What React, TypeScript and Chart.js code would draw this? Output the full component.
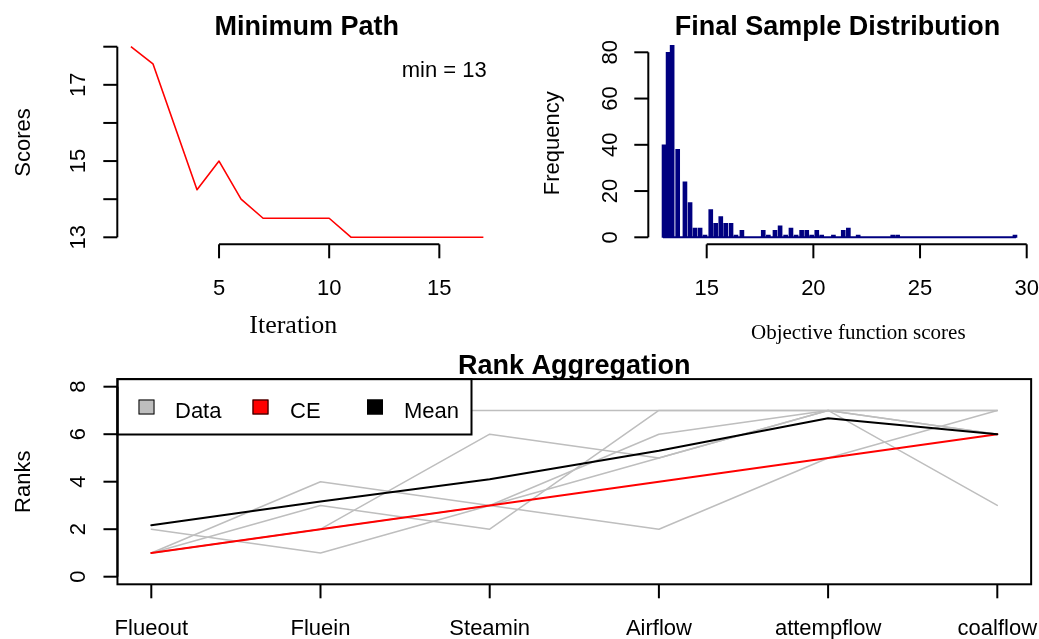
import React, { useEffect, useRef } from "react";
import { Chart, registerables } from "chart.js";

Chart.register(...registerables);

const W = 1039;
const H = 639;
const SANS = '"Liberation Sans", Arial, Helvetica, sans-serif';
const SERIF = '"Liberation Serif", "Times New Roman", serif';

// ---------- Panel 1: Minimum Path ----------
const iterations = [1, 2, 3, 4, 5, 6, 7, 8, 9, 10, 11, 12, 13, 14, 15, 16, 17];
const minScores = [18.0, 17.55, 15.9, 14.25, 15.0, 14.0, 13.5, 13.5, 13.5, 13.5, 13.0, 13.0, 13.0, 13.0, 13.0, 13.0, 13.0];
const pathYTicks = [13, 14, 15, 16, 17, 18];
const pathYLabels = ["13", "", "15", "", "17", ""];
const pathXTicks = [5, 10, 15];
const minText = "min = 13";

// ---------- Panel 2: Final Sample Distribution ----------
const sampleScores = [
  13.0, 13.19, 13.38, 13.64, 13.98, 14.22, 14.45, 14.69, 14.92, 15.19, 15.42, 15.66, 15.89, 16.14, 16.37, 16.65,
  17.65, 17.89, 18.2, 18.44, 18.7, 18.95, 19.19, 19.45, 19.69, 19.92, 20.16, 20.39, 20.94, 21.4, 21.64, 22.1,
  23.72, 23.95, 29.45,
];
const sampleFreq = [
  40, 80, 83, 38, 24, 15, 4, 4, 1, 12, 6, 9, 6, 6, 1, 3,
  3, 1, 3, 5, 1, 4, 1, 3, 3, 1, 3, 1, 1, 3, 4, 1,
  1, 1, 1,
];
const baselineRange = [12.95, 29.5];
const freqTicks = [0, 20, 40, 60, 80];
const scoreTicks = [15, 20, 25, 30];

// ---------- Panel 3: Rank Aggregation ----------
const variables = ["Flueout", "Fluein", "Steamin", "Airflow", "attempflow", "coalflow"];
const rankRun1 = [7, 7, 7, 7, 7, 7];
const rankRun2 = [1, 2, 6, 5, 7, 6];
const rankRun3 = [1, 4, 3, 2, 5, 7];
const rankRun4 = [1, 3, 2, 7, 7, 3];
const rankRun5 = [2, 1, 3, 6, 7, 6];
const rankRun6 = [1, 2, 3, 5, 7, 7];
const ceRanks = [1, 2, 3, 4, 5, 6];
const meanRanks = [2.17, 3.17, 4.1, 5.3, 6.67, 6.0];
const rankTicks = [0, 2, 4, 6, 8];
const legendLabels = ["Data", "CE", "Mean"];
const legendColors = ["#BEBEBE", "#FF0000", "#000000"];

function pad(left: number, top: number, right: number, bottom: number) {
  return { left, top, right: W - right, bottom: H - bottom };
}

function line(ctx: CanvasRenderingContext2D, x1: number, y1: number, x2: number, y2: number) {
  ctx.beginPath();
  ctx.moveTo(x1, y1);
  ctx.lineTo(x2, y2);
  ctx.stroke();
}

function hText(ctx: CanvasRenderingContext2D, text: string, x: number, y: number, font: string, align: CanvasTextAlign = "center") {
  ctx.save();
  ctx.font = font;
  ctx.fillStyle = "#000";
  ctx.textAlign = align;
  ctx.textBaseline = "alphabetic";
  ctx.fillText(text, x, y);
  ctx.restore();
}

function vText(ctx: CanvasRenderingContext2D, text: string, x: number, y: number, font: string) {
  ctx.save();
  ctx.translate(x, y);
  ctx.rotate(-Math.PI / 2);
  ctx.font = font;
  ctx.fillStyle = "#000";
  ctx.textAlign = "center";
  ctx.textBaseline = "alphabetic";
  ctx.fillText(text, 0, 0);
  ctx.restore();
}

const common = {
  responsive: false,
  animation: false as const,
  devicePixelRatio: 1,
  events: [] as any[],
  plugins: { legend: { display: false }, title: { display: false }, tooltip: { enabled: false } },
};

const TICK = 14;
const F22 = `22px ${SANS}`;
const TITLE = `bold 27px ${SANS}`;

const pathPlugin = {
  id: "pathAxes",
  afterDraw(chart: any) {
    const ctx = chart.ctx as CanvasRenderingContext2D;
    const xs = chart.scales.x;
    const ys = chart.scales.y;
    ctx.save();
    ctx.strokeStyle = "#000";
    ctx.lineWidth = 2;
    const axX = 117.3;
    line(ctx, axX, ys.getPixelForValue(pathYTicks[0]), axX, ys.getPixelForValue(pathYTicks[pathYTicks.length - 1]));
    pathYTicks.forEach((t, i) => {
      const py = ys.getPixelForValue(t);
      line(ctx, axX, py, axX - TICK, py);
      if (pathYLabels[i]) vText(ctx, pathYLabels[i], 85, py, F22);
    });
    const axY = 244.3;
    line(ctx, xs.getPixelForValue(pathXTicks[0]), axY, xs.getPixelForValue(pathXTicks[pathXTicks.length - 1]), axY);
    pathXTicks.forEach((t) => {
      const px = xs.getPixelForValue(t);
      line(ctx, px, axY, px, axY + TICK);
      hText(ctx, String(t), px, 295, F22);
    });
    vText(ctx, "Scores", 30, 142.5, F22);
    hText(ctx, "Iteration", 293.3, 333, `26px ${SERIF}`);
    hText(ctx, "Minimum Path", 306.7, 35, TITLE);
    hText(ctx, minText, 486.7, 77.3, F22, "right");
    ctx.restore();
  },
};

const histPlugin = {
  id: "histAxes",
  afterDraw(chart: any) {
    const ctx = chart.ctx as CanvasRenderingContext2D;
    const xs = chart.scales.x;
    const ys = chart.scales.y;
    ctx.save();
    ctx.strokeStyle = "#000";
    ctx.lineWidth = 2;
    const axX = 648.3;
    line(ctx, axX, ys.getPixelForValue(freqTicks[0]), axX, ys.getPixelForValue(freqTicks[freqTicks.length - 1]));
    freqTicks.forEach((t) => {
      const py = ys.getPixelForValue(t);
      line(ctx, axX, py, axX - TICK, py);
      vText(ctx, String(t), 616.5, py, F22);
    });
    const axY = 244.3;
    line(ctx, xs.getPixelForValue(scoreTicks[0]), axY, xs.getPixelForValue(scoreTicks[scoreTicks.length - 1]), axY);
    scoreTicks.forEach((t) => {
      const px = xs.getPixelForValue(t);
      line(ctx, px, axY, px, axY + TICK);
      hText(ctx, String(t), px, 295, F22);
    });
    vText(ctx, "Frequency", 558.8, 143.3, F22);
    hText(ctx, "Objective function scores", 858.3, 339, `21px ${SERIF}`);
    hText(ctx, "Final Sample Distribution", 837.5, 35, TITLE);
    ctx.restore();
  },
};

const rankPlugin = {
  id: "rankAxes",
  afterDatasetsDraw(chart: any) {
    const ctx = chart.ctx as CanvasRenderingContext2D;
    const ca = chart.chartArea;
    ctx.save();
    // legend box
    const lx = ca.left, ly = ca.top, lw = 471.5 - ca.left, lh = 434.5 - ca.top;
    ctx.fillStyle = "#fff";
    ctx.fillRect(lx, ly, lw, lh);
    ctx.strokeStyle = "#000";
    ctx.lineWidth = 2;
    ctx.strokeRect(lx, ly, lw, lh);
    const sqX = [138.5, 252.5, 367];
    const txX = [175, 290, 404];
    legendLabels.forEach((lab, i) => {
      ctx.fillStyle = legendColors[i];
      ctx.fillRect(sqX[i], 399.5, 16, 15);
      ctx.lineWidth = 1;
      ctx.strokeStyle = "#000";
      ctx.strokeRect(sqX[i] + 0.5, 400, 15, 14);
      hText(ctx, lab, txX[i], 417.5, F22, "left");
    });
    ctx.restore();
  },
  afterDraw(chart: any) {
    const ctx = chart.ctx as CanvasRenderingContext2D;
    const ca = chart.chartArea;
    const xs = chart.scales.x;
    const ys = chart.scales.y;
    ctx.save();
    ctx.strokeStyle = "#000";
    ctx.lineWidth = 2;
    ctx.strokeRect(ca.left, ca.top, ca.right - ca.left, ca.bottom - ca.top);
    line(ctx, ca.left, ys.getPixelForValue(rankTicks[0]), ca.left, ys.getPixelForValue(rankTicks[rankTicks.length - 1]));
    rankTicks.forEach((t) => {
      const py = ys.getPixelForValue(t);
      line(ctx, ca.left, py, ca.left - TICK, py);
      vText(ctx, String(t), 85.3, py, F22);
    });
    variables.forEach((v, i) => {
      const px = xs.getPixelForValue(i + 1);
      line(ctx, px, ca.bottom, px, ca.bottom + TICK);
      hText(ctx, v, px, 635, F22);
    });
    vText(ctx, "Ranks", 30, (ca.top + ca.bottom) / 2, F22);
    hText(ctx, "Rank Aggregation", (ca.left + ca.right) / 2, 373.5, TITLE);
    ctx.restore();
  },
};

function pts(xs: number[], ys: number[]) {
  return xs.map((x, i) => ({ x, y: ys[i] }));
}

function configPath(): any {
  return {
    type: "line",
    data: {
      datasets: [
        {
          data: pts(iterations, minScores),
          borderColor: "#FF0000",
          borderWidth: 1.6,
          pointRadius: 0,
          tension: 0,
          borderJoinStyle: "round",
          clip: false,
        },
      ],
    },
    options: {
      ...common,
      layout: { padding: pad(119.9, 39.08, 494.4, 244.92) },
      scales: {
        x: { type: "linear", min: 0.5, max: 17.5, display: false },
        y: { type: "linear", min: 12.8, max: 18.2, display: false },
      },
    },
    plugins: [pathPlugin],
  };
}

function configHist(): any {
  return {
    type: "bar",
    data: {
      datasets: [
        {
          type: "bar",
          data: pts(sampleScores, sampleFreq),
          backgroundColor: "#000080",
          borderWidth: 0,
          barThickness: 4,
        },
        {
          type: "line",
          data: [
            { x: baselineRange[0], y: 0 },
            { x: baselineRange[1], y: 0 },
          ],
          borderColor: "#000080",
          borderWidth: 2,
          pointRadius: 0,
        },
      ],
    },
    options: {
      ...common,
      layout: { padding: pad(642.7, 38.43, 1037.37, 245.39) },
      scales: {
        x: { type: "linear", min: 12, max: 30.5, offset: false, display: false, grid: { offset: false } },
        y: { type: "linear", min: -3.5, max: 86, display: false },
      },
    },
    plugins: [histPlugin],
  };
}

function configRank(): any {
  const xsIdx = variables.map((_, i) => i + 1);
  const grayRuns = [rankRun1, rankRun2, rankRun3, rankRun4, rankRun5, rankRun6];
  const base = { pointRadius: 0, tension: 0, borderJoinStyle: "round", borderCapStyle: "round", fill: false };
  return {
    type: "line",
    data: {
      datasets: [
        { ...base, label: "Mean", data: pts(xsIdx, meanRanks), borderColor: "#000000", borderWidth: 2, order: 1 },
        { ...base, label: "CE", data: pts(xsIdx, ceRanks), borderColor: "#FF0000", borderWidth: 2, order: 2 },
        ...grayRuns.map((r, k) => ({
          ...base,
          label: "Data " + (k + 1),
          data: pts(xsIdx, r),
          borderColor: "#BEBEBE",
          borderWidth: 1.5,
          order: 3,
        })),
      ],
    },
    options: {
      ...common,
      layout: { padding: pad(117.46, 379.1, 1031.14, 584.3) },
      scales: {
        x: { type: "linear", min: 0.8, max: 6.2, display: false },
        y: { type: "linear", min: -0.32, max: 8.32, display: false },
      },
    },
    plugins: [rankPlugin],
  };
}

export default function App() {
  const r1 = useRef<HTMLCanvasElement>(null);
  const r2 = useRef<HTMLCanvasElement>(null);
  const r3 = useRef<HTMLCanvasElement>(null);

  useEffect(() => {
    const charts = [
      new Chart(r1.current as HTMLCanvasElement, configPath()),
      new Chart(r2.current as HTMLCanvasElement, configHist()),
      new Chart(r3.current as HTMLCanvasElement, configRank()),
    ];
    return () => charts.forEach((c) => c.destroy());
  }, []);

  const cs: React.CSSProperties = { position: "absolute", left: 0, top: 0, width: W, height: H, display: "block" };
  return (
    <div style={{ position: "fixed", left: 0, top: 0, width: W, height: H, background: "#fff", overflow: "hidden" }}>
      <canvas ref={r1} width={W} height={H} style={cs} />
      <canvas ref={r2} width={W} height={H} style={cs} />
      <canvas ref={r3} width={W} height={H} style={cs} />
    </div>
  );
}
